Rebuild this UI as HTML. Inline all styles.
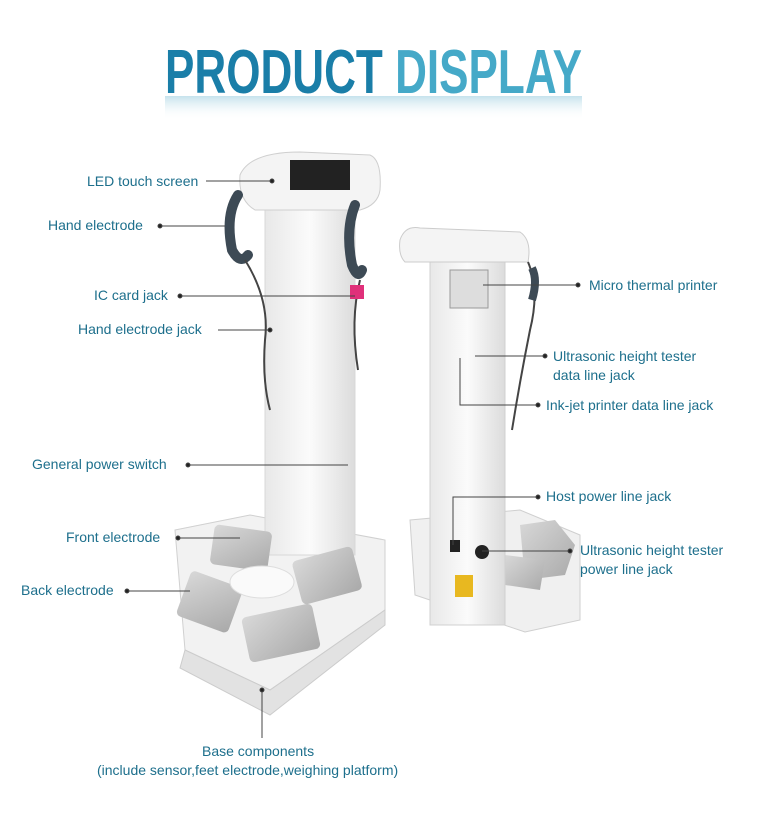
<!DOCTYPE html>
<html><head><meta charset="utf-8"><style>
html,body{margin:0;padding:0;background:#fff;}
svg{display:block}
text.l{font-family:"Liberation Sans",sans-serif;font-size:14px;fill:#1d6f8c;}
</style></head><body>
<svg width="768" height="814" viewBox="0 0 768 814" xmlns="http://www.w3.org/2000/svg">
<defs>
<linearGradient id="ref" x1="0" y1="0" x2="0" y2="1"><stop offset="0" stop-color="#9fcfe0" stop-opacity="0.6"/><stop offset="1" stop-color="#fff" stop-opacity="0"/></linearGradient>
<linearGradient id="col" x1="0" y1="0" x2="1" y2="0"><stop offset="0" stop-color="#e8e8e8"/><stop offset="0.5" stop-color="#fbfbfb"/><stop offset="1" stop-color="#dcdcdc"/></linearGradient>
<linearGradient id="pad" x1="0" y1="0" x2="1" y2="1"><stop offset="0" stop-color="#d8d8d8"/><stop offset="1" stop-color="#a9a9a9"/></linearGradient>
</defs>
<text x="165" y="93" font-family="Liberation Sans,sans-serif" font-weight="bold" font-size="62" textLength="417" lengthAdjust="spacingAndGlyphs"><tspan fill="#1a7ea8">PRODUCT </tspan><tspan fill="#45a9c8">DISPLAY</tspan></text>
<rect x="165" y="96" width="417" height="24" fill="url(#ref)"/>

<path d="M175 530 L250 515 L385 540 L385 610 L270 690 L185 650 Z" fill="#f2f2f2" stroke="#d0d0d0"/>
<path d="M185 650 L270 690 L385 610 L385 625 L270 715 L180 668 Z" fill="#e2e2e2" stroke="#ccc"/>
<rect x="265" y="195" width="90" height="360" fill="url(#col)" stroke="#d8d8d8"/>
<path d="M240 175 Q250 152 300 152 L370 155 Q382 160 380 190 Q378 205 360 210 L255 210 Q238 200 240 175Z" fill="#f4f4f4" stroke="#cfcfcf"/>
<rect x="290" y="160" width="60" height="30" fill="#222"/>
<path d="M238 195 Q225 215 232 250 Q240 265 248 255" fill="none" stroke="#3d4a55" stroke-width="10" stroke-linecap="round"/>
<path d="M355 205 Q345 230 352 265 Q358 280 362 270" fill="none" stroke="#3d4a55" stroke-width="10" stroke-linecap="round"/>
<path d="M245 260 Q270 300 265 340 Q262 380 270 410" fill="none" stroke="#444" stroke-width="2"/>
<path d="M360 280 Q350 320 358 370" fill="none" stroke="#444" stroke-width="2"/>
<rect x="350" y="285" width="14" height="14" fill="#e0307a"/>
<rect x="212" y="528" width="58" height="40" rx="5" fill="url(#pad)" transform="rotate(8 241 548)"/>
<rect x="296" y="553" width="62" height="45" rx="5" fill="url(#pad)" transform="rotate(-15 327 575)"/>
<rect x="182" y="578" width="55" height="48" rx="5" fill="url(#pad)" transform="rotate(20 210 602)"/>
<rect x="245" y="610" width="72" height="46" rx="5" fill="url(#pad)" transform="rotate(-12 281 633)"/>
<ellipse cx="262" cy="582" rx="32" ry="16" fill="#fafafa" stroke="#ddd"/>

<path d="M410 520 L520 510 L580 535 L580 620 L525 632 L415 595 Z" fill="#f0f0f0" stroke="#cfcfcf"/>
<polygon points="520,525 555,520 575,545 565,575 525,580" fill="url(#pad)"/>
<polygon points="505,555 545,560 540,590 505,585" fill="url(#pad)"/>
<rect x="430" y="245" width="75" height="380" fill="url(#col)" stroke="#d0d0d0"/>
<path d="M400 240 Q405 225 420 228 L520 232 Q532 240 528 262 L405 262 Q398 255 400 240Z" fill="#f4f4f4" stroke="#ccc"/>
<rect x="450" y="270" width="38" height="38" fill="#ddd" stroke="#999"/>
<path d="M528 262 Q540 290 530 330 Q520 380 512 430" fill="none" stroke="#444" stroke-width="2"/>
<path d="M532 268 Q538 280 532 300" fill="none" stroke="#3d4a55" stroke-width="8"/>
<rect x="450" y="540" width="10" height="12" fill="#222"/>
<circle cx="482" cy="552" r="7" fill="#222"/>
<rect x="455" y="575" width="18" height="22" fill="#e8b820"/>

<g stroke="#444" stroke-width="1" fill="#222">
<line x1="206" y1="181" x2="272" y2="181"/><circle cx="272" cy="181" r="2"/>
<line x1="160" y1="226" x2="225" y2="226"/><circle cx="160" cy="226" r="2"/>
<line x1="180" y1="296" x2="355" y2="296"/><circle cx="180" cy="296" r="2"/>
<line x1="218" y1="330" x2="270" y2="330"/><circle cx="270" cy="330" r="2"/>
<line x1="188" y1="465" x2="348" y2="465"/><circle cx="188" cy="465" r="2"/>
<line x1="178" y1="538" x2="240" y2="538"/><circle cx="178" cy="538" r="2"/>
<line x1="127" y1="591" x2="190" y2="591"/><circle cx="127" cy="591" r="2"/>
<line x1="262" y1="690" x2="262" y2="738"/><circle cx="262" cy="690" r="2"/>
<line x1="483" y1="285" x2="578" y2="285"/><circle cx="578" cy="285" r="2"/>
<line x1="475" y1="356" x2="545" y2="356"/><circle cx="545" cy="356" r="2"/>
<polyline points="460,358 460,405 538,405" fill="none"/><circle cx="538" cy="405" r="2"/>
<polyline points="453,545 453,497 538,497" fill="none"/><circle cx="538" cy="497" r="2"/>
<line x1="482" y1="551" x2="570" y2="551"/><circle cx="570" cy="551" r="2"/>
</g>

<text class="l" x="87" y="186">LED touch screen</text>
<text class="l" x="48" y="230">Hand electrode</text>
<text class="l" x="94" y="300">IC card jack</text>
<text class="l" x="78" y="334">Hand electrode jack</text>
<text class="l" x="32" y="469">General power switch</text>
<text class="l" x="66" y="542">Front electrode</text>
<text class="l" x="21" y="595">Back electrode</text>
<text class="l" x="202" y="756">Base components</text>
<text class="l" x="97" y="775">(include sensor,feet electrode,weighing platform)</text>
<text class="l" x="589" y="290">Micro thermal printer</text>
<text class="l" x="553" y="361">Ultrasonic height tester</text>
<text class="l" x="553" y="380">data line jack</text>
<text class="l" x="546" y="410">Ink-jet printer data line jack</text>
<text class="l" x="546" y="501">Host power line jack</text>
<text class="l" x="580" y="555">Ultrasonic height tester</text>
<text class="l" x="580" y="574">power line jack</text>
</svg>
</body></html>
